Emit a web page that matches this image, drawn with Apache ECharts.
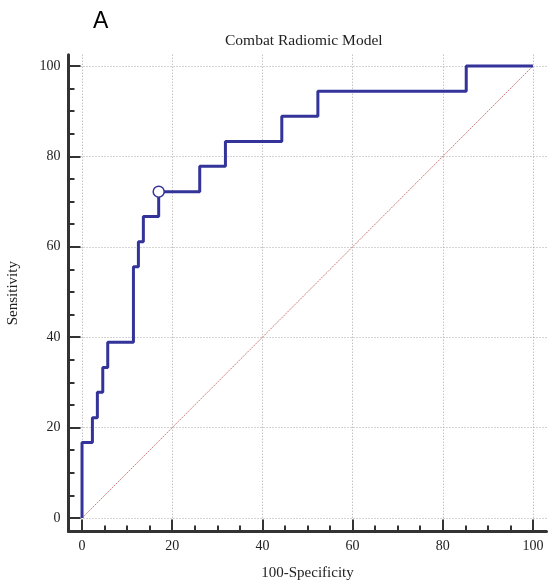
<!DOCTYPE html>
<html>
<head>
<meta charset="utf-8">
<script src="https://cdn.jsdelivr.net/npm/echarts@6/dist/echarts.min.js"></script>
<style>
  html, body { margin: 0; padding: 0; background: #fff; }
  #chart { width: 549px; height: 582px; }
</style>
</head>
<body>
<div id="chart"></div>
<script>
// ROC curve operating points (100-Specificity, Sensitivity)
const fpr = [0, 0, 2.3, 2.3, 3.4, 3.4, 4.6, 4.6, 5.7, 5.7, 11.4, 11.4, 12.5, 12.5, 13.6, 13.6, 17.0, 17.0, 26.1, 26.1, 31.8, 31.8, 44.3, 44.3, 52.3, 52.3, 85.2, 85.2, 100]
const tpr = [0, 16.7, 16.7, 22.2, 22.2, 27.8, 27.8, 33.3, 33.3, 38.9, 38.9, 55.6, 55.6, 61.1, 61.1, 66.7, 66.7, 72.2, 72.2, 77.8, 77.8, 83.3, 83.3, 88.9, 88.9, 94.4, 94.4, 100, 100]
const cutoff = [17.0, 72.2]
const diagonal = [[0, 0], [100, 100]]
const majorTicks = [0, 20, 40, 60, 80, 100]
const minorTicks = [5, 10, 15, 25, 30, 35, 45, 50, 55, 65, 70, 75, 85, 90, 95]

const axisColor = '#333'
const labelFont = { fontFamily: 'Liberation Serif', fontSize: 14, color: '#222' }

function axisPair(dim) {
  const isX = dim === 'x'
  const range = isX ? { min: -3, max: 103 } : { min: -3, max: 102.5 }
  return [
    {
      type: 'value',
      position: isX ? 'bottom' : 'left',
      ...range,
      name: isX ? '100-Specificity' : 'Sensitivity',
      nameLocation: 'middle',
      nameGap: isX ? 34 : 48,
      nameTextStyle: { fontFamily: 'Liberation Serif', fontSize: 15, color: '#222' },
      axisLine: { show: true, onZero: false, lineStyle: { color: axisColor, width: 3 } },
      axisTick: { show: true, inside: true, length: 12, customValues: majorTicks, lineStyle: { color: axisColor, width: 2 } },
      axisLabel: { ...labelFont, margin: 8, customValues: majorTicks },
      splitLine: { show: true, lineStyle: { color: '#a8a8a8', type: [1, 2], width: 1 } },
    },
    {
      type: 'value',
      position: isX ? 'bottom' : 'left',
      ...range,
      axisLine: { show: false, onZero: false },
      axisTick: { show: true, inside: true, length: 6, customValues: minorTicks, lineStyle: { color: axisColor, width: 2 } },
      axisLabel: { show: false },
      splitLine: { show: false },
    },
  ]
}

const chart = echarts.init(document.getElementById('chart'))
chart.setOption({
  backgroundColor: '#fff',
  animation: false,
  title: [
    { text: 'A', left: 88, top: 5, textStyle: { fontFamily: 'Liberation Sans', fontSize: 23, fontWeight: 'normal', color: '#000' } },
    { text: 'Combat Radiomic Model', left: 220, top: 28, textStyle: { fontFamily: 'Liberation Serif', fontSize: 15.5, fontWeight: 'normal', color: '#222' } },
  ],
  grid: { left: 68.5, right: 2.5, top: 54.7, bottom: 50.4, outerBoundsMode: 'none' },
  xAxis: axisPair('x'),
  yAxis: axisPair('y'),
  series: [
    {
      type: 'line',
      data: diagonal,
      symbol: 'none',
      lineStyle: { color: '#c45c5c', width: 1, type: [2, 1], opacity: 0.8 },
      z: 2,
    },
    {
      type: 'line',
      data: fpr.map((x, i) => [x, tpr[i]]),
      symbol: 'none',
      lineStyle: { color: '#333399', width: 3 },
      z: 3,
    },
    {
      type: 'scatter',
      data: [cutoff],
      symbol: 'circle',
      symbolSize: 11,
      itemStyle: { color: '#fff', borderColor: '#333399', borderWidth: 1.5, opacity: 1 },
      z: 4,
    },
  ],
})
</script>
</body>
</html>
